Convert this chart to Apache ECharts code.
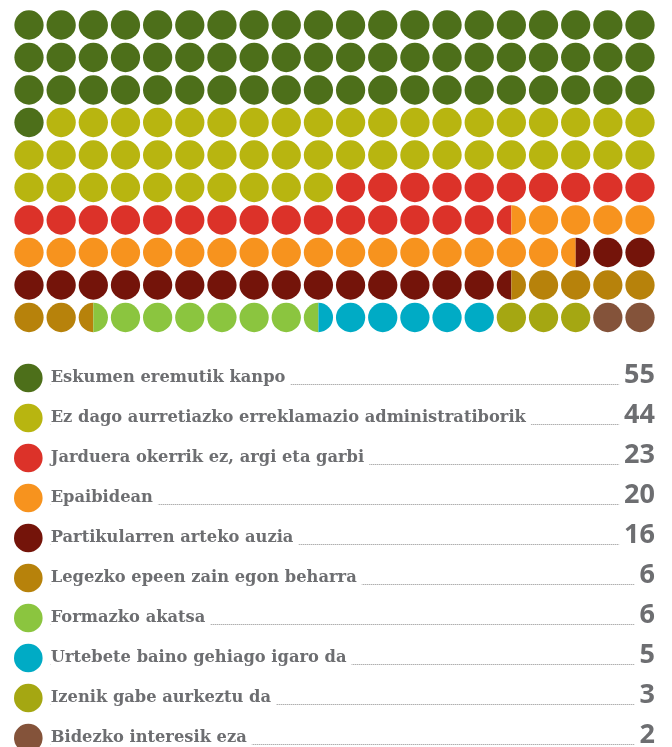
<!DOCTYPE html>
<html>
<head>
<meta charset="utf-8">
<title>Waffle</title>
<script src="https://cdn.jsdelivr.net/npm/echarts@6/dist/echarts.min.js"></script>
<style>
  html, body { margin: 0; padding: 0; background: #fff; }
  #chart { width: 672px; height: 747px; }
</style>
</head>
<body>
<div id="chart"></div>
<script>
// kategoriak eta balioak
const categories = [
  'Eskumen eremutik kanpo',
  'Ez dago aurretiazko erreklamazio administratiborik',
  'Jarduera okerrik ez, argi eta garbi',
  'Epaibidean',
  'Partikularren arteko auzia',
  'Legezko epeen zain egon beharra',
  'Formazko akatsa',
  'Urtebete baino gehiago igaro da',
  'Izenik gabe aurkeztu da',
  'Bidezko interesik eza'
]
const values = [55, 44, 23, 20, 16, 6, 6, 5, 3, 2]
// borobil kopurua waffle-an (erdiak barne), irudian zenbatuta
const circles = [61, 49, 25.5, 22, 18, 7, 7, 5.5, 3, 2]
const colors = ['#4d6f1a', '#b8b510', '#dc3229', '#f7931e', '#74140a',
  '#b7820b', '#8bc53f', '#00abc5', '#a5a712', '#84533a']

const COLS = 20
const ROWS = 10

// borobil erdi bakoitzari kategoria bat
const halves = []
circles.forEach((n, k) => {
  for (let j = 0; j < n * 2; j++) halves.push(k)
})
const cells = []
for (let i = 0; i < ROWS * COLS; i++) {
  cells.push([i % COLS, Math.floor(i / COLS), halves[2 * i], halves[2 * i + 1]])
}
const rows = categories.map((c, k) => [0, k])

const textColor = '#6d6e71'

function renderCell (params, api) {
  const c = api.coord([api.value(0), api.value(1)])
  const s = api.size([1, 1])
  const r = Math.min(s[0], s[1]) * 0.455
  const left = api.value(2)
  const right = api.value(3)
  if (left === right) {
    return { type: 'circle', shape: { cx: c[0], cy: c[1], r: r }, style: { fill: colors[left] } }
  }
  return {
    type: 'group',
    children: [
      {
        type: 'sector',
        shape: { cx: c[0], cy: c[1], r0: 0, r: r, startAngle: Math.PI / 2, endAngle: Math.PI * 1.5, clockwise: true },
        style: { fill: colors[left] }
      },
      {
        type: 'sector',
        shape: { cx: c[0], cy: c[1], r0: 0, r: r, startAngle: -Math.PI / 2, endAngle: Math.PI / 2, clockwise: true },
        style: { fill: colors[right] }
      }
    ]
  }
}

function renderRow (params, api) {
  const k = api.value(1)
  const a = api.coord([0, k])
  const b = api.coord([1, k])
  const y = a[1]
  const textX = a[0] + 22.4
  const lineY = Math.round(y + 6) + 0.5
  return {
    type: 'group',
    children: [
      { type: 'circle', shape: { cx: a[0], cy: y, r: 14.3 }, style: { fill: colors[k] } },
      {
        type: 'line',
        shape: { x1: textX, y1: lineY, x2: b[0], y2: lineY },
        style: { stroke: '#8c8c8c', lineWidth: 1, lineDash: [1, 1] }
      },
      {
        type: 'text',
        style: {
          x: textX, y: y, text: categories[k], fill: textColor,
          fontSize: 16.3, fontWeight: 'bold', fontFamily: '"DejaVu Serif"',
          align: 'left', verticalAlign: 'middle',
          backgroundColor: '#fff', padding: [2, 5, 2, 0]
        }
      },
      {
        type: 'text',
        style: {
          x: b[0], y: y - 3, text: String(values[k]), fill: textColor,
          fontSize: 27, fontWeight: 'bold', fontFamily: '"Open Sans"',
          align: 'right', verticalAlign: 'middle',
          backgroundColor: '#fff', padding: [0, 0, 0, 5]
        }
      }
    ]
  }
}

const chart = echarts.init(document.getElementById('chart'), null, { renderer: 'canvas' })

const option = {
  animation: false,
  backgroundColor: '#fff',
  grid: [
    { left: 29, right: 32, top: 25, bottom: 429.5 },
    { left: 28.3, right: 17, top: 378, bottom: 9 }
  ],
  xAxis: [
    { gridIndex: 0, type: 'value', min: 0, max: COLS - 1, show: false },
    { gridIndex: 1, type: 'value', min: 0, max: 1, show: false }
  ],
  yAxis: [
    { gridIndex: 0, type: 'value', min: 0, max: ROWS - 1, inverse: true, show: false },
    { gridIndex: 1, type: 'value', min: 0, max: categories.length - 1, inverse: true, show: false }
  ],
  series: [
    {
      type: 'custom',
      xAxisIndex: 0,
      yAxisIndex: 0,
      clip: false,
      renderItem: renderCell,
      data: cells
    },
    {
      type: 'custom',
      xAxisIndex: 1,
      yAxisIndex: 1,
      clip: false,
      renderItem: renderRow,
      data: rows
    }
  ]
}

chart.setOption(option)
</script>
</body>
</html>
